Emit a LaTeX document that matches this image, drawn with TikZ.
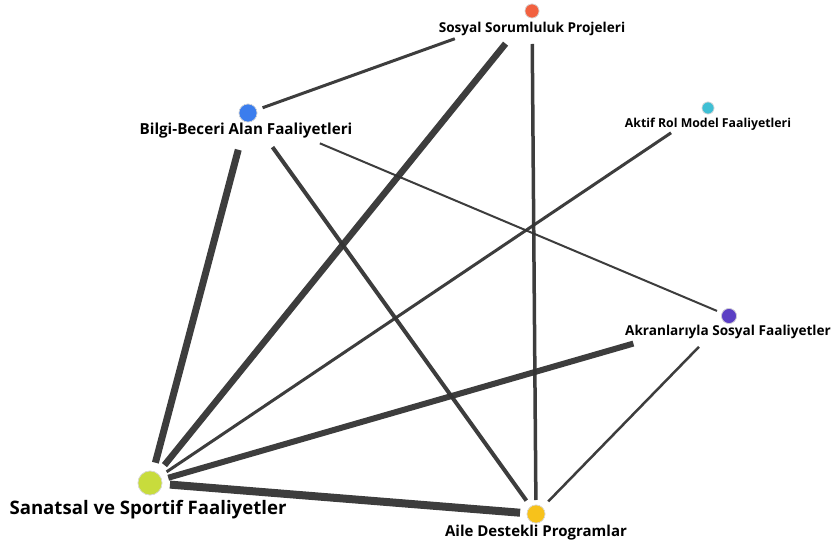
\documentclass[tikz,border=0pt]{standalone}
\usepackage{fontspec}
\setmainfont{Open Sans}
\definecolor{linkgray}{HTML}{333333}
\definecolor{cS}{HTML}{F26140}
\definecolor{cB}{HTML}{3B7DED}
\definecolor{cA}{HTML}{3FBFD4}
\definecolor{cK}{HTML}{5B3FC4}
\definecolor{cN}{HTML}{C8DC3C}
\definecolor{cF}{HTML}{F7C21B}
\tikzset{
  dot/.style={circle, inner sep=0pt, minimum size=#1, draw=black!15, line width=0.6pt},
  lbl/.style={inner sep=0pt, font=\bfseries\fontsize{#1}{#1}\selectfont},
  link/.style={draw=linkgray, draw opacity=0.95, line cap=butt}
}
\begin{document}
\begin{tikzpicture}[x=1pt,y=-1pt]
\useasboundingbox (0,0) rectangle (833,548);
\fill[white] (0,0) rectangle (833,548);
% circle nodes
\node[dot=14pt, fill=cS] (S) at (532,11) {};
\node[dot=18pt, fill=cB] (B) at (248,113) {};
\node[dot=12pt, fill=cA] (A) at (708,108) {};
\node[dot=15pt, fill=cK] (K) at (729,316) {};
\node[dot=24pt, fill=cN] (N) at (150,483) {};
\node[dot=18pt, fill=cF] (F) at (536,514) {};
% edges
\draw[link, line width=3pt, shorten <=15.5pt, shorten >=82pt] (B.center) -- (S.center);
\draw[link, line width=6.5pt, shorten <=42pt, shorten >=23pt] (S.center) -- (N.center);
\draw[link, line width=3.5pt, shorten <=33pt, shorten >=14pt] (S.center) -- (F.center);
\draw[link, line width=7pt, shorten <=38pt, shorten >=21pt] (B.center) -- (N.center);
\draw[link, line width=4pt, shorten <=42pt, shorten >=16.5pt] (B.center) -- (F.center);
\draw[link, line width=2pt, shorten <=78pt, shorten >=13pt] (B.center) -- (K.center);
\draw[link, line width=3pt, shorten <=44.5pt, shorten >=20pt] (A.center) -- (N.center);
\draw[link, line width=6pt, shorten <=99.5pt, shorten >=19pt] (K.center) -- (N.center);
\draw[link, line width=2.5pt, shorten <=43pt, shorten >=17.5pt] (K.center) -- (F.center);
\draw[link, line width=8pt, shorten <=20pt, shorten >=16pt] (N.center) -- (F.center);
% redraw dots on top
\node[dot=14pt, fill=cS] at (S) {};
\node[dot=18pt, fill=cB] at (B) {};
\node[dot=12pt, fill=cA] at (A) {};
\node[dot=15pt, fill=cK] at (K) {};
\node[dot=24pt, fill=cN] at (N) {};
\node[dot=18pt, fill=cF] at (F) {};
% labels
\node[lbl=13.6] (lS) at (532,29) {Sosyal Sorumluluk Projeleri};
\node[lbl=15.2] (lB) at (246,131) {Bilgi-Beceri Alan Faaliyetleri};
\node[lbl=12.3] (lA) at (708,124) {Aktif Rol Model Faaliyetleri};
\node[lbl=13.6] (lK) at (728,332) {Akranlarıyla Sosyal Faaliyetler};
\node[lbl=18.6] (lN) at (148,510) {Sanatsal ve Sportif Faaliyetler};
\node[lbl=15] (lF) at (536,533) {Aile Destekli Programlar};
\end{tikzpicture}
\end{document}
